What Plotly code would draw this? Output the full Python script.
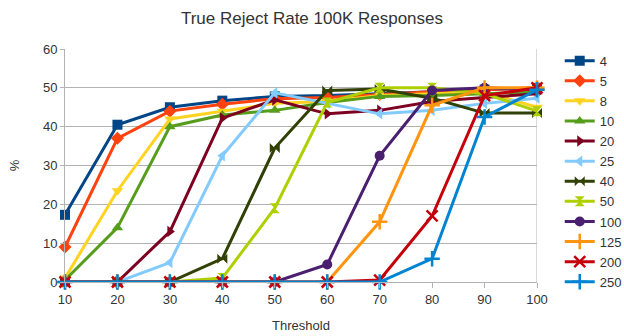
import plotly.graph_objects as go

thresholds = [10, 20, 30, 40, 50, 60, 70, 80, 90, 100]

s4 = [17.3, 40.5, 45.0, 46.7, 47.8, 48.0, 48.5, 49.0, 49.5, 50.0]
s5 = [9.0, 37.0, 44.0, 45.8, 47.2, 47.5, 48.3, 49.0, 49.5, 50.0]
s8 = [1.0, 23.5, 42.0, 44.0, 46.0, 46.5, 48.0, 48.5, 49.0, 45.0]
s10 = [0.5, 14.0, 40.0, 43.0, 44.2, 46.2, 47.8, 48.0, 48.5, 49.0]
s20 = [0.0, 0.0, 13.0, 42.2, 46.9, 43.3, 44.2, 46.5, 47.5, 48.5]
s25 = [0.0, 0.0, 5.0, 32.5, 48.7, 46.0, 43.3, 44.2, 46.0, 47.3]
s40 = [0.0, 0.0, 0.0, 6.0, 34.5, 49.3, 49.7, 47.3, 43.5, 43.5]
s50 = [0.0, 0.0, 0.0, 1.0, 19.0, 46.2, 50.0, 50.0, 48.5, 44.0]
s100 = [0.0, 0.0, 0.0, 0.0, 0.0, 4.5, 32.5, 49.3, 50.0, 49.5]
s125 = [0.0, 0.0, 0.0, 0.0, 0.0, 0.0, 15.5, 45.5, 50.0, 50.0]
s200 = [0.0, 0.0, 0.0, 0.0, 0.0, 0.0, 0.5, 17.0, 48.0, 50.0]
s250 = [0.0, 0.0, 0.0, 0.0, 0.0, 0.0, 0.0, 6.0, 42.5, 49.5]

series_names = ["4", "5", "8", "10", "20", "25", "40", "50", "100", "125", "200", "250"]
series_values = [s4, s5, s8, s10, s20, s25, s40, s50, s100, s125, s200, s250]
colors = ["#004586", "#ff420e", "#ffd320", "#579d1c", "#7e0021", "#83caff",
          "#314004", "#aecf00", "#4b1f6f", "#ff950e", "#c5000b", "#0084d1"]
symbols = ["square", "diamond", "triangle-down", "triangle-up", "triangle-right",
           "triangle-left", "bowtie", "hourglass", "circle", "cross-thin", "x-thin", "cross-thin"]
thin = {"cross-thin", "x-thin"}

fig = go.Figure()
for name, vals, col, sym in zip(series_names, series_values, colors, symbols):
    fig.add_trace(go.Scatter(
        x=thresholds, y=vals, name=name, mode="lines+markers", legendgroup=name,
        line=dict(color=col, width=3),
        marker=dict(symbol=sym, size=11 if sym in thin else 10, color=col,
                    line=dict(color=col, width=2.5 if sym in thin else 0)),
        cliponaxis=False,
    ))

fig.update_layout(
    width=624, height=336,
    margin=dict(l=65, r=87, t=49, b=54),
    paper_bgcolor="white", plot_bgcolor="white",
    font=dict(family="Liberation Sans, Arial, sans-serif", size=13, color="#333333"),
    title=dict(text="True Reject Rate 100K Responses", x=0.5, xanchor="center",
               y=0.946, yanchor="middle", font=dict(size=17, color="#333333")),
    legend=dict(xref="container", yref="container", x=0.897, y=0.864,
                xanchor="left", yanchor="top",
                font=dict(size=13, color="#333333"), itemwidth=30,
                tracegroupgap=0.2, bgcolor="rgba(0,0,0,0)", maxheight=330),
    showlegend=True,
)
fig.update_xaxes(
    range=[10, 100], tickmode="array", tickvals=thresholds,
    ticks="outside", ticklen=5, tickcolor="#b3b3b3",
    showgrid=False, showline=True, linecolor="#b3b3b3", mirror=False,
    title=dict(text="Threshold", font=dict(size=13), standoff=15),
    zeroline=False, automargin=False,
)
fig.update_yaxes(
    range=[0, 60], dtick=10, showgrid=True, gridcolor="#b3b3b3", gridwidth=1,
    showline=True, linecolor="#b3b3b3", ticks="outside", ticklen=4, tickcolor="#b3b3b3",
    title=dict(text="%", font=dict(size=13), standoff=20),
    zeroline=False, automargin=False,
)
fig.add_shape(type="line", xref="x", yref="paper", x0=100, x1=100, y0=0, y1=1,
              line=dict(color="#b3b3b3", width=1), layer="below")

fig.write_html("out.html", config={"displayModeBar": False},
               post_script="document.body.style.margin='0';")
